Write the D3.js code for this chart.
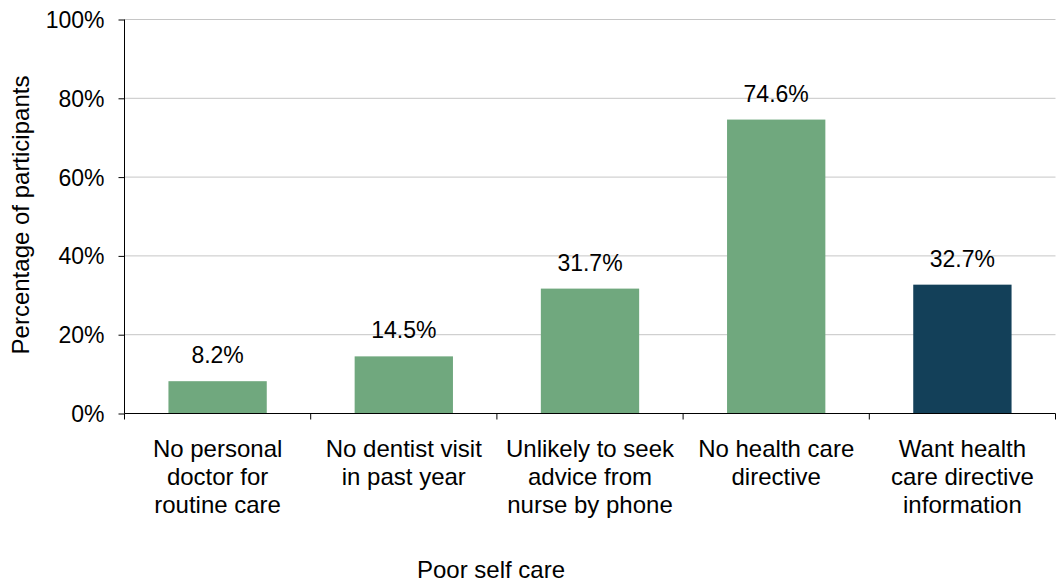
<!DOCTYPE html>
<html>
  <head>
    <meta charset="utf-8">
    <title>Poor self care</title>
    <script src="https://cdn.jsdelivr.net/npm/d3@7"></script>
    <style>
      body { margin: 0; background: #fff; }
      svg text { font-family: "Liberation Sans", Arial, sans-serif; fill: #000; }
    </style>
  </head>
  <body>
    <svg id="chart" width="1057" height="583"></svg>

    <script>
      // data
      const categories = [
        ["No personal", "doctor for", "routine care"],
        ["No dentist visit", "in past year"],
        ["Unlikely to seek", "advice from", "nurse by phone"],
        ["No health care", "directive"],
        ["Want health", "care directive", "information"]
      ];
      const values = [8.2, 14.5, 31.7, 74.6, 32.7];
      const barColours = ["#70a87e", "#70a87e", "#70a87e", "#70a87e", "#134059"];
      const yTicks = [0, 20, 40, 60, 80, 100];

      // layout
      const svg = d3.select("#chart");
      const fontSize = 23;
      const labelSize = 24;
      const plotLeft = 124.5;
      const plotRight = 1055.5;
      const plotTop = 19.5;
      const plotBottom = 413.5;

      const x = d3.scaleBand()
        .domain(d3.range(values.length))
        .range([plotLeft, plotRight])
        .paddingInner(0.472)
        .paddingOuter(0.236);
      const xEdges = d3.scaleLinear()
        .domain([0, values.length])
        .range([plotLeft, plotRight]);
      const y = d3.scaleLinear()
        .domain([0, 100])
        .range([plotBottom, plotTop]);

      // gridlines
      svg.append("g")
        .selectAll("line")
        .data(yTicks.slice(1))
        .enter().append("line")
          .attr("x1", plotLeft)
          .attr("x2", plotRight)
          .attr("y1", function(d) { return y(d); })
          .attr("y2", function(d) { return y(d); })
          .attr("stroke", "#c6c6c6")
          .attr("stroke-width", 1);

      // bars
      svg.append("g")
        .selectAll("rect")
        .data(values)
        .enter().append("rect")
          .attr("x", function(d, i) { return x(i); })
          .attr("width", x.bandwidth())
          .attr("y", function(d) { return y(d); })
          .attr("height", function(d) { return plotBottom - y(d); })
          .attr("fill", function(d, i) { return barColours[i]; });

      // value labels
      svg.append("g")
        .selectAll("text")
        .data(values)
        .enter().append("text")
          .attr("x", function(d, i) { return x(i) + x.bandwidth() / 2; })
          .attr("y", function(d) { return y(d) - 18; })
          .attr("text-anchor", "middle")
          .attr("font-size", fontSize)
          .text(function(d) { return d.toFixed(1) + "%"; });

      // y axis
      const yAxis = svg.append("g")
        .attr("transform", "translate(" + plotLeft + ",0)")
        .call(d3.axisLeft(y)
          .tickValues(yTicks)
          .tickSize(6)
          .tickFormat(function(d) { return d + "%"; }));
      yAxis.select(".domain").attr("stroke", "#000").attr("d", "M0," + plotTop + "V" + plotBottom);
      yAxis.selectAll(".tick line").attr("stroke", "#000");
      yAxis.selectAll(".tick text")
        .attr("font-size", fontSize)
        .attr("font-family", "Liberation Sans, Arial, sans-serif")
        .attr("fill", "#000")
        .attr("x", -20)
        .attr("dy", "0.35em");

      // x axis line and category ticks
      const xAxis = svg.append("g");
      xAxis.append("line")
        .attr("x1", plotLeft)
        .attr("x2", plotRight)
        .attr("y1", plotBottom)
        .attr("y2", plotBottom)
        .attr("stroke", "#000");
      xAxis.selectAll(".xtick")
        .data(d3.range(values.length + 1))
        .enter().append("line")
          .classed("xtick", true)
          .attr("x1", function(d) { return xEdges(d); })
          .attr("x2", function(d) { return xEdges(d); })
          .attr("y1", plotBottom)
          .attr("y2", plotBottom + 6)
          .attr("stroke", "#000");

      // category labels
      const catLabels = svg.append("g")
        .selectAll("text")
        .data(categories)
        .enter().append("text")
          .attr("text-anchor", "middle")
          .attr("font-size", labelSize)
          .attr("transform", function(d, i) {
            return "translate(" + (xEdges(i) + xEdges(i + 1)) / 2 + ",457)";
          });
      catLabels.selectAll("tspan")
        .data(function(d) { return d; })
        .enter().append("tspan")
          .attr("x", 0)
          .attr("y", function(d, i) { return i * 28; })
          .text(function(d) { return d; });

      // axis titles
      svg.append("text")
        .attr("x", 491)
        .attr("y", 578)
        .attr("text-anchor", "middle")
        .attr("font-size", labelSize)
        .text("Poor self care");
      svg.append("text")
        .attr("transform", "translate(29,215) rotate(-90)")
        .attr("text-anchor", "middle")
        .attr("font-size", labelSize)
        .text("Percentage of participants");
    </script>
  </body>
</html>
